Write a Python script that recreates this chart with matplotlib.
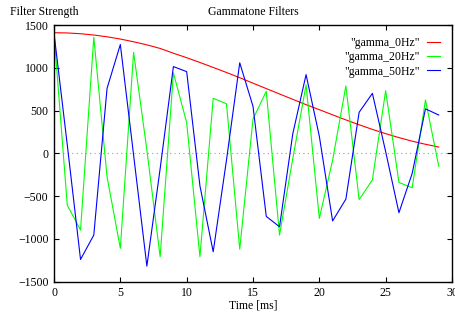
import matplotlib
matplotlib.use("Agg")
import matplotlib.pyplot as plt

plt.rcParams['font.family'] = ['Liberation Serif', 'DejaVu Serif']

time_ms = list(range(30))
gamma_0Hz = [1410, 1407, 1398, 1383, 1362, 1336, 1304, 1268, 1226, 1170,
             1118, 1062, 1004, 945, 884, 820, 757, 694, 631, 569,
             510, 450, 391, 334, 280, 230, 184, 142, 106, 74]
gamma_20Hz = [1405, -605, -897, 1357, -275, -1110, 1180, 40, -1209, 940,
              360, -1209, 643, 580, -1120, 400, 725, -955, -60, 800,
              -760, -80, 788, -540, -310, 733, -340, -402, 624, -150]
gamma_50Hz = [1405, 100, -1240, -955, 760, 1272, -20, -1318, -180, 1014,
              955, -380, -1150, -80, 1058, 550, -737, -858, 230, 920,
              200, -790, -535, 480, 701, 20, -694, -234, 520, 448]
labels = ['"gamma_0Hz"', '"gamma_20Hz"', '"gamma_50Hz"']
colors = ['#ff0000', '#00ff00', '#0000ff']
xticks = [0, 5, 10, 15, 20, 25, 30]
yticks = [-1500, -1000, -500, 0, 500, 1000, 1500]

fs = 8.5
fig = plt.figure(figsize=(4.55, 3.16), dpi=100)
ax = fig.add_axes([54/455, 1 - 281.7/316, 398/455, 256.7/316])

ax.axhline(0, color='#a0a0a0', linestyle=(0, (1, 3)), linewidth=0.8, zorder=1)
for series, lab, col in zip([gamma_0Hz, gamma_20Hz, gamma_50Hz], labels, colors):
    ax.plot(time_ms, series, color=col, linewidth=0.8, label=lab, zorder=2)

ax.set_xlim(0, 30)
ax.set_ylim(-1500, 1500)
ax.set_xticks(xticks)
ax.set_yticks(yticks)
ax.tick_params(direction='in', length=3.5, width=0.8, top=True, right=True,
               labelsize=fs, pad=4, colors='black')
for s in ax.spines.values():
    s.set_linewidth(1.0)

fig.text(10/455, 1 - 12/316, 'Filter Strength', fontsize=fs, ha='left', va='center')
fig.text(253/455, 1 - 12/316, 'Gammatone Filters', fontsize=fs, ha='center', va='center')
fig.text(253/455, 1 - 305/316, 'Time [ms]', fontsize=fs, ha='center', va='center')

ax.legend(loc='upper right', markerfirst=False, frameon=False, fontsize=fs,
          handlelength=1.1, handletextpad=0.6, labelspacing=0.2,
          borderaxespad=0.3, borderpad=0.7)

fig.savefig('out.png', dpi=100)
